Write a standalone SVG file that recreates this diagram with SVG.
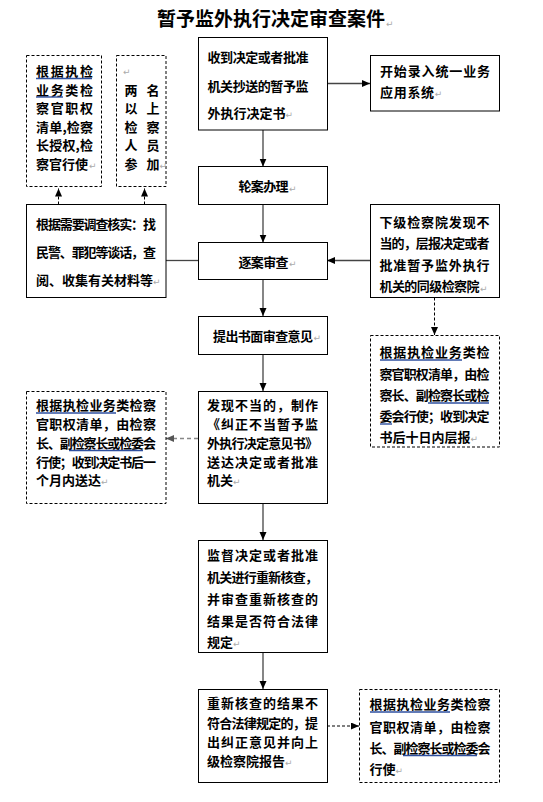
<svg xmlns="http://www.w3.org/2000/svg" width="543" height="802" viewBox="0 0 543 802">
<style>
.bg{fill:#fff}
.box{fill:#fff;stroke:#000;stroke-width:1}
.dbox{fill:#fff;stroke:#000;stroke-width:1;stroke-dasharray:3 2}
.t{font-family:"Noto Sans CJK SC","Liberation Sans",sans-serif;font-weight:bold;font-size:13px;fill:#000}
.title{font-family:"Noto Sans CJK SC","Liberation Sans",sans-serif;font-weight:bold;font-size:19px;fill:#000}
.pm{font-family:"DejaVu Sans",sans-serif;font-weight:normal;font-size:9px;fill:#aaa}
.ul{stroke:#2e4f9f;stroke-width:1.4}
.ln{stroke:#444;stroke-width:1.3;fill:none}
.dl{stroke:#000;stroke-width:1;stroke-dasharray:3 2;fill:none}
.gl{stroke:#888;stroke-width:1.6;stroke-dasharray:4 3;fill:none}
</style>
<defs>
<marker id="ah" markerUnits="userSpaceOnUse" markerWidth="9" markerHeight="8" refX="8" refY="3.5" orient="auto">
<path d="M0,0 L8,3.5 L0,7 z" fill="#000"/>
</marker>
<marker id="ahg" markerUnits="userSpaceOnUse" markerWidth="9" markerHeight="8" refX="8" refY="3.5" orient="auto">
<path d="M0,0 L8,3.5 L0,7 z" fill="#555"/>
</marker>
</defs>
<rect class="bg" x="0" y="0" width="543" height="802"/>

<g id="title">
<text class="title" x="157" y="25.5" textLength="228" lengthAdjust="spacing">暂予监外执行决定审查案件</text>
<text class="pm" x="386" y="27">↵</text>
</g>

<g id="connectors">
<line class="ln" x1="327" y1="83.5" x2="370" y2="83.5" marker-end="url(#ah)"/>
<line class="ln" x1="263" y1="130" x2="263" y2="166.5" marker-end="url(#ah)"/>
<line class="ln" x1="263" y1="204.5" x2="263" y2="242.5" marker-end="url(#ah)"/>
<line class="ln" x1="166" y1="260.5" x2="198" y2="260.5"/>
<line class="dl" x1="58.5" y1="204.5" x2="58.5" y2="188.5" marker-end="url(#ah)"/>
<line class="dl" x1="144.5" y1="204.5" x2="144.5" y2="188.5" marker-end="url(#ah)"/>
<line class="ln" x1="370" y1="260.5" x2="327" y2="260.5" marker-end="url(#ah)"/>
<line class="ln" x1="263" y1="279.5" x2="263" y2="316" marker-end="url(#ah)"/>
<line class="dl" x1="434.5" y1="297.5" x2="434.5" y2="335" marker-end="url(#ah)"/>
<line class="ln" x1="263" y1="354.5" x2="263" y2="391" marker-end="url(#ah)"/>
<line class="gl" x1="198" y1="438.5" x2="166" y2="438.5" marker-end="url(#ahg)"/>
<line class="ln" x1="263" y1="503.5" x2="263" y2="540" marker-end="url(#ah)"/>
<line class="ln" x1="263" y1="652.5" x2="263" y2="689" marker-end="url(#ah)"/>
<line class="dl" x1="327" y1="726" x2="359" y2="726" marker-end="url(#ah)"/>
</g>

<g id="n-receive">
<rect class="box" x="198.5" y="37.5" width="129" height="92.5"/>
<text class="t" x="207.5" y="61.5" textLength="101" lengthAdjust="spacing">收到决定或者批准</text>
<text class="t" x="207.5" y="90.5" textLength="101" lengthAdjust="spacing">机关抄送的暂予监</text>
<text class="t" x="207.5" y="118">外执行决定书<tspan class="pm">↵</tspan></text>
</g>

<g id="n-system">
<rect class="box" x="370.5" y="55.5" width="129" height="55.5"/>
<text class="t" x="380" y="76" textLength="110" lengthAdjust="spacing">开始录入统一业务</text>
<text class="t" x="380" y="96.5" letter-spacing="0.7">应用系统<tspan class="pm" letter-spacing="0">↵</tspan></text>
</g>

<g id="n-authority1">
<rect class="dbox" x="26.5" y="55.5" width="75" height="131"/>
<text class="t" x="36" y="76" textLength="57" lengthAdjust="spacing">根据执检</text>
<text class="t" x="36" y="94.5" textLength="57" lengthAdjust="spacing">业务类检</text>
<text class="t" x="36" y="113" textLength="57" lengthAdjust="spacing">察官职权</text>
<text class="t" x="36" y="131.5" textLength="57" lengthAdjust="spacing">清单,检察</text>
<text class="t" x="36" y="150" textLength="57" lengthAdjust="spacing">长授权,检</text>
<text class="t" x="36" y="168.5" textLength="52" lengthAdjust="spacing">察官行使</text>
<text class="pm" x="89" y="169">↵</text>
<line class="ul" x1="36" y1="78.5" x2="92" y2="78.5"/>
<line class="ul" x1="36" y1="97" x2="63" y2="97"/>
</g>

<g id="n-two">
<rect class="dbox" x="116.5" y="55.5" width="49.5" height="131"/>
<text class="pm" x="123" y="75">↵</text>
<text class="t" x="124.5" y="94.5">两</text>
<text class="t" x="146.5" y="94.5">名</text>
<text class="t" x="124.5" y="113">以</text>
<text class="t" x="146.5" y="113">上</text>
<text class="t" x="124.5" y="131.5">检</text>
<text class="t" x="146.5" y="131.5">察</text>
<text class="t" x="124.5" y="150">人</text>
<text class="t" x="146.5" y="150">员</text>
<text class="t" x="124.5" y="168.5">参</text>
<text class="t" x="146.5" y="168.5">加</text>
<text class="pm" x="159.5" y="169">↵</text>
</g>

<g id="n-rotate">
<rect class="box" x="198.5" y="166.5" width="129" height="38"/>
<text class="t" x="238.5" y="191" textLength="50" lengthAdjust="spacing">轮案办理</text>
<text class="pm" x="289" y="191.5">↵</text>
</g>

<g id="n-investigate">
<rect class="box" x="26.5" y="204.5" width="139.5" height="93"/>
<text class="t" x="36" y="228.5" textLength="120" lengthAdjust="spacing">根据需要调查核实：找</text>
<text class="t" x="36" y="256.5" textLength="120" lengthAdjust="spacing">民警、罪犯等谈话，查</text>
<text class="t" x="36" y="284.5">阅、收集有关材料等<tspan class="pm">↵</tspan></text>
</g>

<g id="n-review">
<rect class="box" x="198.5" y="242.5" width="129" height="37"/>
<text class="t" x="238.5" y="266.5" textLength="50" lengthAdjust="spacing">逐案审查</text>
<text class="pm" x="289" y="267">↵</text>
</g>

<g id="n-lower">
<rect class="box" x="370.5" y="204.5" width="129" height="93"/>
<text class="t" x="379.5" y="226.5" textLength="110" lengthAdjust="spacing">下级检察院发现不</text>
<text class="t" x="379.5" y="248" textLength="110" lengthAdjust="spacing">当的，层报决定或者</text>
<text class="t" x="379.5" y="269.5" textLength="110" lengthAdjust="spacing">批准暂予监外执行</text>
<text class="t" x="379.5" y="291" textLength="100" lengthAdjust="spacing">机关的同级检察院</text>
<text class="pm" x="480" y="291.5">↵</text>
</g>

<g id="n-opinion">
<rect class="box" x="198.5" y="316.5" width="129" height="38"/>
<text class="t" x="213" y="340.5" textLength="100" lengthAdjust="spacing">提出书面审查意见</text>
<text class="pm" x="313.5" y="341">↵</text>
</g>

<g id="n-authority2">
<rect class="dbox" x="370.5" y="335.5" width="129" height="111.5"/>
<text class="t" x="379.5" y="357" textLength="110" lengthAdjust="spacing">根据执检业务类检</text>
<text class="t" x="379.5" y="378.5" textLength="110" lengthAdjust="spacing">察官职权清单，由检</text>
<text class="t" x="379.5" y="400" textLength="110" lengthAdjust="spacing">察长、副检察长或检</text>
<text class="t" x="379.5" y="421" textLength="110" lengthAdjust="spacing">委会行使；收到决定</text>
<text class="t" x="379.5" y="442">书后十日内层报<tspan class="pm">↵</tspan></text>
<line class="ul" x1="380" y1="360" x2="462" y2="360"/>
<line class="ul" x1="428" y1="403" x2="489" y2="403"/>
<line class="ul" x1="380" y1="424" x2="392" y2="424"/>
</g>

<g id="n-correct">
<rect class="box" x="198.5" y="391.5" width="129" height="112"/>
<text class="t" x="207" y="410" textLength="111" lengthAdjust="spacing">发现不当的，制作</text>
<text class="t" x="207" y="428.5" textLength="111" lengthAdjust="spacing">《纠正不当暂予监</text>
<text class="t" x="207" y="447.5" textLength="111" lengthAdjust="spacing">外执行决定意见书》</text>
<text class="t" x="207" y="466.5" textLength="111" lengthAdjust="spacing">送达决定或者批准</text>
<text class="t" x="207" y="485">机关<tspan class="pm">↵</tspan></text>
</g>

<g id="n-authority3">
<rect class="dbox" x="26.5" y="391.5" width="139.5" height="112"/>
<text class="t" x="36" y="410" textLength="120" lengthAdjust="spacing">根据执检业务类检察</text>
<text class="t" x="36" y="428.5" textLength="120" lengthAdjust="spacing">官职权清单，由检察</text>
<text class="t" x="36" y="447.5" textLength="120" lengthAdjust="spacing">长、副检察长或检委会</text>
<text class="t" x="36" y="466.5" textLength="120" lengthAdjust="spacing">行使；收到决定书后一</text>
<text class="t" x="36" y="485">个月内送达<tspan class="pm">↵</tspan></text>
<line class="ul" x1="36" y1="413" x2="116" y2="413"/>
<line class="ul" x1="69" y1="450.5" x2="143" y2="450.5"/>
</g>

<g id="n-supervise">
<rect class="box" x="198.5" y="540.5" width="129" height="112"/>
<text class="t" x="207" y="560" textLength="111" lengthAdjust="spacing">监督决定或者批准</text>
<text class="t" x="207" y="582" textLength="111" lengthAdjust="spacing">机关进行重新核查，</text>
<text class="t" x="207" y="604" textLength="111" lengthAdjust="spacing">并审查重新核查的</text>
<text class="t" x="207" y="625.5" textLength="111" lengthAdjust="spacing">结果是否符合法律</text>
<text class="t" x="207" y="647">规定<tspan class="pm">↵</tspan></text>
</g>

<g id="n-result">
<rect class="box" x="198.5" y="689.5" width="129" height="93"/>
<text class="t" x="207" y="708" textLength="111" lengthAdjust="spacing">重新核查的结果不</text>
<text class="t" x="207" y="728" textLength="111" lengthAdjust="spacing">符合法律规定的，提</text>
<text class="t" x="207" y="747" textLength="111" lengthAdjust="spacing">出纠正意见并向上</text>
<text class="t" x="207" y="766">级检察院报告<tspan class="pm">↵</tspan></text>
</g>

<g id="n-authority4">
<rect class="dbox" x="359.5" y="689.5" width="140" height="93"/>
<text class="t" x="369.5" y="709" textLength="121" lengthAdjust="spacing">根据执检业务类检察</text>
<text class="t" x="369.5" y="731.5" textLength="121" lengthAdjust="spacing">官职权清单，由检察</text>
<text class="t" x="369.5" y="752.5" textLength="121" lengthAdjust="spacing">长、副检察长或检委会</text>
<text class="t" x="369.5" y="774">行使<tspan class="pm">↵</tspan></text>
<line class="ul" x1="370" y1="712" x2="450" y2="712"/>
<line class="ul" x1="403" y1="755.5" x2="477" y2="755.5"/>
</g>
</svg>
